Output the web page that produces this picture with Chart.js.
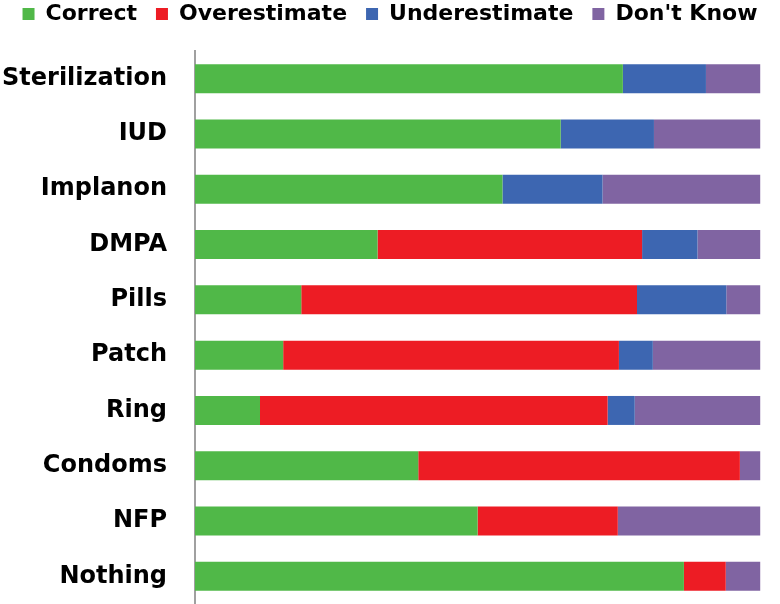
<!DOCTYPE html>
<html>
<head>
<meta charset="utf-8">
<script src="https://cdn.jsdelivr.net/npm/chart.js@4"></script>
<style>
  html, body { margin: 0; padding: 0; background: #fff; }
  #wrap { width: 780px; height: 604px; }
  canvas { display: block; }
</style>
</head>
<body>
<div id="wrap"><canvas id="myChart" width="780" height="604"></canvas></div>
<script>
// Categories and series (percent of respondents)
var methods = ['Sterilization', 'IUD', 'Implanon', 'DMPA', 'Pills', 'Patch', 'Ring', 'Condoms', 'NFP', 'Nothing'];
var correct = [75.7, 64.7, 54.4, 32.3, 18.8, 15.6, 11.5, 39.5, 50.0, 86.5];
var overestimate = [0, 0, 0, 46.8, 59.4, 59.4, 61.5, 56.9, 24.8, 7.4];
var underestimate = [14.7, 16.5, 17.7, 9.8, 15.8, 6.0, 4.8, 0, 0, 0];
var dontKnow = [9.6, 18.8, 27.9, 11.1, 6.0, 19.0, 22.2, 3.6, 25.2, 6.1];

// Nudge the legend up so it sits at the very top of the picture
var legendShift = {
    id: 'legendShift',
    afterLayout: function(chart) {
        chart.legend.top -= 16;
        chart.legend.bottom -= 16;
    }
};

var ctx = document.getElementById('myChart').getContext('2d');
var myChart = new Chart(ctx, {
    type: 'bar',
    data: {
        labels: methods,
        datasets: [
            { label: 'Correct', data: correct, backgroundColor: '#50b848' },
            { label: 'Overestimate', data: overestimate, backgroundColor: '#ed1c24' },
            { label: 'Underestimate', data: underestimate, backgroundColor: '#3d66b1' },
            { label: "Don't Know", data: dontKnow, backgroundColor: '#8064a2' }
        ]
    },
    options: {
        indexAxis: 'y',
        responsive: false,
        animation: false,
        datasets: {
            bar: { categoryPercentage: 1, barPercentage: 0.524, borderWidth: 0 }
        },
        layout: { padding: { left: 0, right: 0, top: 0, bottom: 0 } },
        plugins: {
            tooltip: { enabled: false },
            legend: {
                position: 'top',
                labels: {
                    color: '#000',
                    font: { family: 'DejaVu Sans', weight: 'bold', size: 22 },
                    boxWidth: 12,
                    boxHeight: 12,
                    padding: 19
                }
            }
        },
        scales: {
            x: {
                stacked: true,
                min: 0,
                max: 103.5, // leaves ~20px blank at the right, 100% lands at x=760
                display: false
            },
            y: {
                stacked: true,
                afterFit: function(scale) {
                    scale.width = 195;
                    scale.paddingTop = 51;
                    scale.paddingBottom = 0;
                },
                grid: { display: false, drawTicks: false },
                border: { display: true, color: '#a0a0a0', width: 2 },
                ticks: { color: '#000', font: { family: 'DejaVu Sans', weight: 'bold', size: 24 }, padding: 28 }
            }
        }
    },
    plugins: [legendShift]
});
</script>
</body>
</html>
